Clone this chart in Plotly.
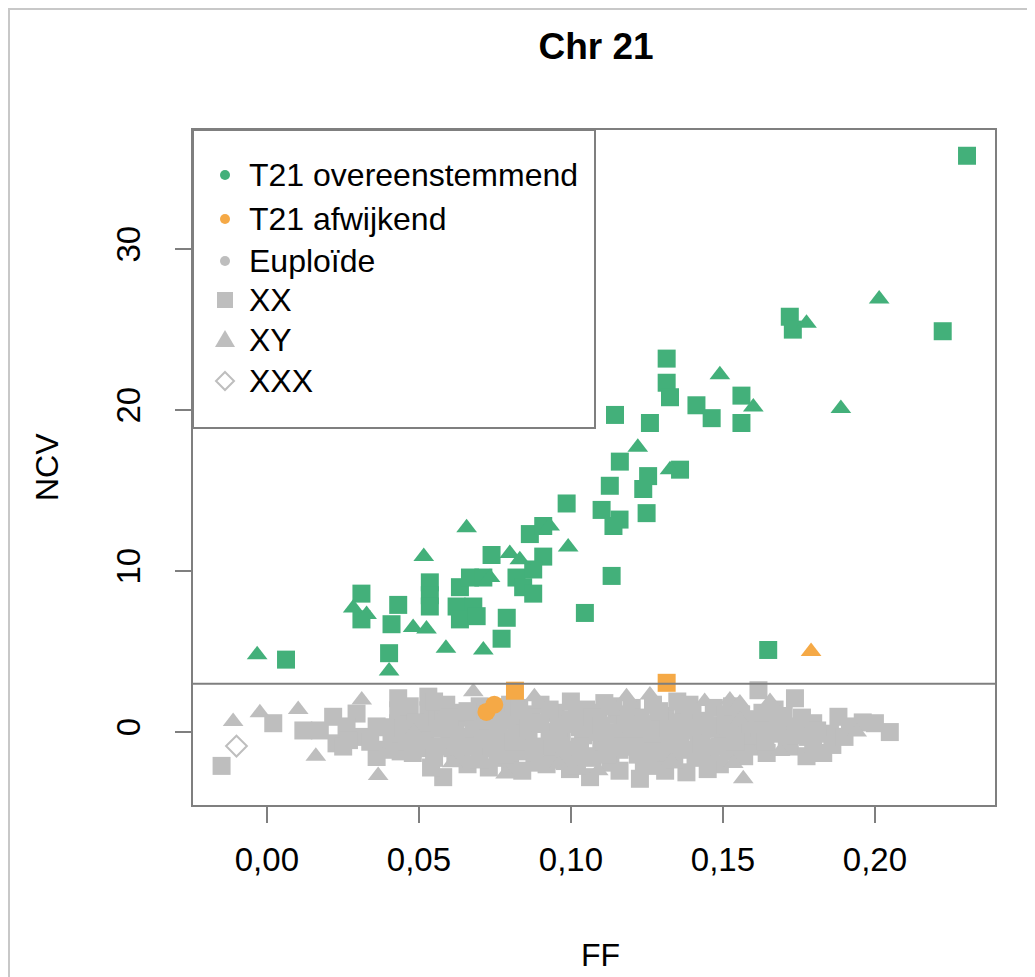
import plotly.graph_objects as go

# ---------------- data ----------------
# T21 concordant (green)
t21_xx_ff = [0.2303, 0.2223, 0.172, 0.173, 0.1315, 0.1315, 0.1326, 0.1413, 0.1463, 0.1561,
             0.1561, 0.1145, 0.126, 0.1161, 0.1128, 0.1254, 0.1238, 0.1359, 0.1101, 0.116,
             0.114, 0.1249, 0.1134, 0.1046, 0.1649, 0.0063, 0.0402, 0.0311, 0.0432, 0.041,
             0.0536, 0.0536, 0.0536, 0.0635, 0.0668, 0.0712, 0.0624, 0.0679, 0.0635, 0.069,
             0.0772, 0.0789, 0.0739, 0.0909, 0.0821, 0.0876, 0.0843, 0.0876, 0.0865, 0.0909,
             0.0986, 0.0311]
t21_xx_ncv = [35.8, 24.9, 25.8, 25.0, 23.2, 21.7, 20.8, 20.3, 19.5, 20.9,
              19.2, 19.7, 19.2, 16.8, 15.3, 15.9, 15.1, 16.3, 13.8, 13.2,
              12.8, 13.6, 9.7, 7.4, 5.1, 4.5, 4.9, 8.6, 7.9, 6.7,
              9.3, 8.5, 7.8, 9.0, 9.6, 9.6, 7.8, 7.8, 7.0, 7.2,
              5.8, 7.1, 11.0, 10.9, 9.6, 10.1, 9.0, 8.6, 12.3, 12.8,
              14.2, 7.0]
t21_xy_ff = [0.2014, 0.1775, 0.1888, 0.149, 0.16, 0.122, 0.1326, -0.0032, 0.0402, 0.0284,
             0.0328, 0.0516, 0.0657, 0.0734, 0.0589, 0.0712, 0.0799, 0.0832, 0.093, 0.0991,
             0.0481, 0.0525]
t21_xy_ncv = [26.9, 25.4, 20.1, 22.2, 20.2, 17.7, 16.3, 4.8, 3.8, 7.7,
              7.3, 10.9, 12.7, 9.6, 5.2, 5.1, 11.1, 10.7, 12.8, 11.5,
              6.5, 6.4]

# T21 discordant (orange)
disc_xx_ff = [0.0816, 0.1315]
disc_xx_ncv = [2.57, 3.06]
disc_un_ff = [0.0722, 0.0748]
disc_un_ncv = [1.25, 1.7]
disc_xy_ff = [0.179]
disc_xy_ncv = [5.0]

# Euploid (grey)
eu_xx_ff = [-0.0149, 0.0021, 0.012, 0.0174, 0.0218, 0.0229, 0.0251, 0.0295, 0.0262, 0.0317,
            0.0361, 0.0383, 0.0361, 0.0432, 0.0432, 0.0432, 0.041, 0.044, 0.046,
            0.0531, 0.0531, 0.0531, 0.050, 0.051, 0.055, 0.058, 0.056, 0.060, 0.062, 0.058,
            0.064, 0.066, 0.067, 0.069, 0.070, 0.071, 0.073, 0.074, 0.076, 0.077, 0.078,
            0.080, 0.080, 0.082, 0.083, 0.085, 0.086, 0.088, 0.089, 0.090, 0.091, 0.093, 0.094, 0.095,
            0.097, 0.098, 0.0997, 0.100, 0.101, 0.103, 0.104, 0.105, 0.1063, 0.107, 0.108,
            0.110, 0.111, 0.112, 0.113, 0.115, 0.116, 0.117, 0.119, 0.120, 0.1227, 0.122, 0.123,
            0.125, 0.126, 0.127, 0.128, 0.130, 0.131, 0.132, 0.134, 0.135, 0.136, 0.138, 0.138,
            0.140, 0.141, 0.142, 0.144, 0.145, 0.147, 0.148, 0.149, 0.150, 0.151,
            0.1589, 0.1617, 0.1633, 0.1644, 0.1688, 0.172, 0.1737, 0.1743, 0.1775, 0.1797,
            0.1797, 0.183, 0.1852, 0.188, 0.1918, 0.2, 0.2049,
            0.155, 0.157, 0.153, 0.160, 0.166, 0.170,
            0.047, 0.049, 0.052, 0.054, 0.057, 0.059, 0.061, 0.063, 0.065, 0.068,
            0.072, 0.075, 0.079, 0.081, 0.084, 0.087, 0.092, 0.096, 0.099, 0.102,
            0.106, 0.109, 0.114, 0.118, 0.121, 0.124, 0.129, 0.133, 0.137, 0.139,
            0.143, 0.146, 0.152, 0.156, 0.158, 0.162, 0.164, 0.167, 0.171, 0.176,
            0.181, 0.186, 0.190, 0.196, 0.070, 0.084, 0.102, 0.116, 0.131, 0.145,
            0.039, 0.034, 0.027,
            0.045, 0.048, 0.055, 0.057, 0.060, 0.062, 0.066, 0.068, 0.071, 0.073,
            0.076, 0.079, 0.081, 0.083, 0.086, 0.088, 0.090, 0.093, 0.095, 0.098,
            0.100, 0.103, 0.105, 0.107, 0.110, 0.112, 0.114, 0.117, 0.119, 0.121,
            0.124, 0.127, 0.129, 0.132, 0.134, 0.136, 0.139, 0.141, 0.143, 0.146,
            0.149, 0.151, 0.154, 0.159, 0.163, 0.168, 0.174, 0.178]
eu_xx_ncv = [-2.1, 0.55, 0.1, 0.1, 0.95, -0.7, -0.9, 1.15, 0.35, -0.3,
             0.35, -1.1, -1.55, 2.1, 1.35, 0.55, -0.4, -1.2, -0.6,
             2.2, 1.35, 0.55, -0.2, -1.0, -1.6, -2.8, 0.9, -0.5, 0.4, 1.2,
             -1.3, -2.0, 0.9, -0.2, 1.6, -1.0, -2.2, 0.4, -1.6, 0.9, -0.4,
             1.7, -2.2, 0.2, -1.2, 1.1, -0.6, -1.9, 0.5, 1.7, -0.9, 0.0, -1.5, 1.2,
             -0.4, 0.8, -2.3, 1.9, -1.1, 0.3, -0.2, 1.4, -2.8, -1.6, 0.7,
             -0.6, 1.8, 0.0, -1.9, 1.1, -1.1, 0.5, -0.3, 1.5, -2.9, -1.4, 0.9,
             -0.7, 0.2, 1.7, -2.1, -0.2, 1.0, -1.3, 0.5, 1.9, -0.8, -2.5, 0.1,
             1.3, -1.6, -0.3, 0.7, -1.0, 1.5, 0.2, -2.0, -0.5, 1.1,
             -0.9, 2.6, -0.3, -1.3, -0.1, -0.9, 2.1, 0.35, -1.5, 0.55,
             -0.7, -1.3, -0.1, 0.95, 0.35, 0.55, 0.0,
             0.4, -1.5, 1.6, 0.8, 0.6, 1.0,
             1.6, 0.6, -0.5, -2.2, 0.2, 1.7, -1.0, 1.2, -0.3, 0.3,
             0.8, -0.7, -1.4, 1.0, -0.1, 0.9, -2.0, 0.3, -1.3, 1.0,
             0.0, 1.2, -0.6, 1.0, 0.0, -1.9, 0.7, -0.4, 1.2, -1.1,
             0.0, -1.5, -1.2, 1.1, -0.2, 0.2, -0.6, 1.4, -0.4, 0.9,
             0.1, -0.8, -0.3, 0.6, -1.7, -2.4, -2.1, -2.4, -2.4, -2.3,
             0.3, -0.6, -0.5,
             0.2, -1.3, 1.9, -0.9, 0.9, -1.6, 1.3, -0.9, 0.2, -0.4,
             0.3, 0.7, -0.6, 1.5, 0.2, -1.0, 0.6, 1.4, -0.8, -1.8,
             0.5, -0.9, -1.5, 0.9, 0.4, -1.4, 1.6, -0.9, 0.8, -0.9,
             0.5, -1.2, 1.3, 0.2, -1.7, 0.6, 1.7, 0.3, -0.8, 0.4,
             -0.9, 0.4, -0.6, 0.5, 1.2, 0.4, -0.2, -0.3]
eu_xy_ff = [-0.0111, -0.0023, 0.0103, 0.0161, 0.0312, 0.0366, 0.0679, 0.0484, 0.061, 0.088,
            0.096, 0.1183, 0.109, 0.133, 0.144, 0.1523, 0.1534, 0.1556, 0.1556, 0.1567,
            0.1655, 0.1688, 0.194, 0.0785, 0.126]
eu_xy_ncv = [0.65, 1.2, 1.4, -1.5, 2.0, -2.7, 2.5, 0.0, -1.9, 2.2,
             -2.0, 2.2, -2.4, -1.8, 1.9, 2.0, -1.95, 1.8, 0.75, -2.9,
             1.9, -1.2, 0.0, -2.6, 2.3]
eu_xxx_ff = [-0.0100]
eu_xxx_ncv = [-0.87]

threshold = 3
x_ticks = [0.00, 0.05, 0.10, 0.15, 0.20]
x_ticklabels = ["0,00", "0,05", "0,10", "0,15", "0,20"]
y_ticks = [0, 10, 20, 30]
legend_labels = ["T21 overeenstemmend", "T21 afwijkend", "Euploïde", "XX", "XY", "XXX"]

# ---------------- styling ----------------
GREEN = "#43B07A"
ORANGE = "#F5A946"
GREY = "#BEBEBE"
AXIS = "#7F7F7F"
FONT = "Liberation Sans, Arial, Helvetica, sans-serif"
SQ = 18
TRI = 18

# plot area in picture pixels: x 193..995, y 130..805
def X(px):
    return (px - 193) / 802

def Y(py):
    return (805 - py) / 675

fig = go.Figure()

def pts(x, y, color, symbol, size, line=None):
    fig.add_trace(go.Scatter(
        x=x, y=y, mode="markers", showlegend=False, hoverinfo="skip",
        marker=dict(color=color, symbol=symbol, size=size,
                    line=line if line else dict(width=0))))

# euploid
pts(eu_xx_ff, eu_xx_ncv, GREY, "square", SQ)
pts(eu_xy_ff, eu_xy_ncv, GREY, "triangle-up", TRI)
pts(eu_xxx_ff, eu_xxx_ncv, "white", "diamond", 16, dict(color=GREY, width=2))
# discordant
pts(disc_un_ff, disc_un_ncv, ORANGE, "circle", 18)
pts(disc_xx_ff, disc_xx_ncv, ORANGE, "square", SQ)
pts(disc_xy_ff, disc_xy_ncv, ORANGE, "triangle-up", TRI)
# concordant
pts(t21_xx_ff, t21_xx_ncv, GREEN, "square", SQ)
pts(t21_xy_ff, t21_xy_ncv, GREEN, "triangle-up", TRI)

# threshold line
fig.add_shape(type="line", xref="paper", x0=0, x1=1, yref="y", y0=threshold, y1=threshold,
              line=dict(color=AXIS, width=2))
# legend box
fig.add_shape(type="rect", xref="paper", yref="paper",
              x0=X(193), x1=X(595), y0=Y(428), y1=Y(130),
              line=dict(color=AXIS, width=2), fillcolor="rgba(0,0,0,0)")
# outer frame of the picture
fig.add_shape(type="rect", xref="paper", yref="paper",
              x0=X(9), x1=X(1050), y0=Y(995), y1=Y(9),
              line=dict(color="#C8C8C8", width=2), fillcolor="rgba(0,0,0,0)")

# legend keys (drawn as shapes) and labels
leg_y = [175, 219, 261, 300, 340, 381]
leg_colors = [GREEN, ORANGE, GREY]
kx = 225
for i in range(3):
    r = 5
    fig.add_shape(type="circle", xref="paper", yref="paper",
                  x0=X(kx - r), x1=X(kx + r), y0=Y(leg_y[i] + r), y1=Y(leg_y[i] - r),
                  fillcolor=leg_colors[i], line=dict(width=0))
s = 8
fig.add_shape(type="rect", xref="paper", yref="paper",
              x0=X(kx - s), x1=X(kx + s), y0=Y(leg_y[3] + s), y1=Y(leg_y[3] - s),
              fillcolor=GREY, line=dict(width=0))
ty = leg_y[4]
fig.add_shape(type="path", xref="paper", yref="paper",
              path=f"M {X(kx-10)} {Y(ty+7)} L {X(kx+10)} {Y(ty+7)} L {X(kx)} {Y(ty-10)} Z",
              fillcolor=GREY, line=dict(width=0))
dy = leg_y[5]
fig.add_shape(type="path", xref="paper", yref="paper",
              path=f"M {X(kx)} {Y(dy-9)} L {X(kx+9)} {Y(dy)} L {X(kx)} {Y(dy+9)} L {X(kx-9)} {Y(dy)} Z",
              fillcolor="white", line=dict(color=GREY, width=2))
for lab, ly in zip(legend_labels, leg_y):
    fig.add_annotation(text=lab, xref="paper", yref="paper", x=X(247), y=Y(ly),
                       xanchor="left", yanchor="middle", showarrow=False,
                       font=dict(size=32, color="black", family=FONT))

# axis titles
fig.add_annotation(text="NCV", xref="paper", yref="paper", x=X(47), y=Y(467),
                   xanchor="center", yanchor="middle",
                   showarrow=False, textangle=-90, font=dict(size=32, color="black", family=FONT))
fig.add_annotation(text="FF", xref="paper", yref="paper", x=X(600), y=Y(955),
                   xanchor="center", yanchor="middle",
                   showarrow=False, font=dict(size=32, color="black", family=FONT))

# page has an 8 px body margin, so shift everything up/left by 8
fig.update_layout(
    width=1035, height=977,
    margin=dict(l=185, r=48, t=122, b=180),
    paper_bgcolor="white", plot_bgcolor="white",
    font=dict(family=FONT, color="black", size=32),
    title=dict(text="<b>Chr 21</b>", x=(596 - 8) / 1035, xanchor="center",
               y=1 - (46 - 8) / 977, yanchor="middle", font=dict(size=37, family=FONT)),
    showlegend=False,
    xaxis=dict(range=[-0.0243, 0.2395], showgrid=False, zeroline=False,
               showline=True, mirror=True, linecolor=AXIS, linewidth=2,
               ticks="outside", ticklen=16, tickwidth=2, tickcolor=AXIS,
               tickvals=x_ticks, ticktext=x_ticklabels, ticklabelstandoff=8,
               tickfont=dict(size=33, family=FONT)),
    yaxis=dict(range=[-4.53, 37.4], showgrid=False, zeroline=False,
               showline=True, mirror=True, linecolor=AXIS, linewidth=2,
               ticks="outside", ticklen=16, tickwidth=2, tickcolor=AXIS,
               tickvals=y_ticks, tickangle=-90, ticklabelstandoff=22,
               tickfont=dict(size=33, family=FONT)),
)

fig.write_html("out.html")
